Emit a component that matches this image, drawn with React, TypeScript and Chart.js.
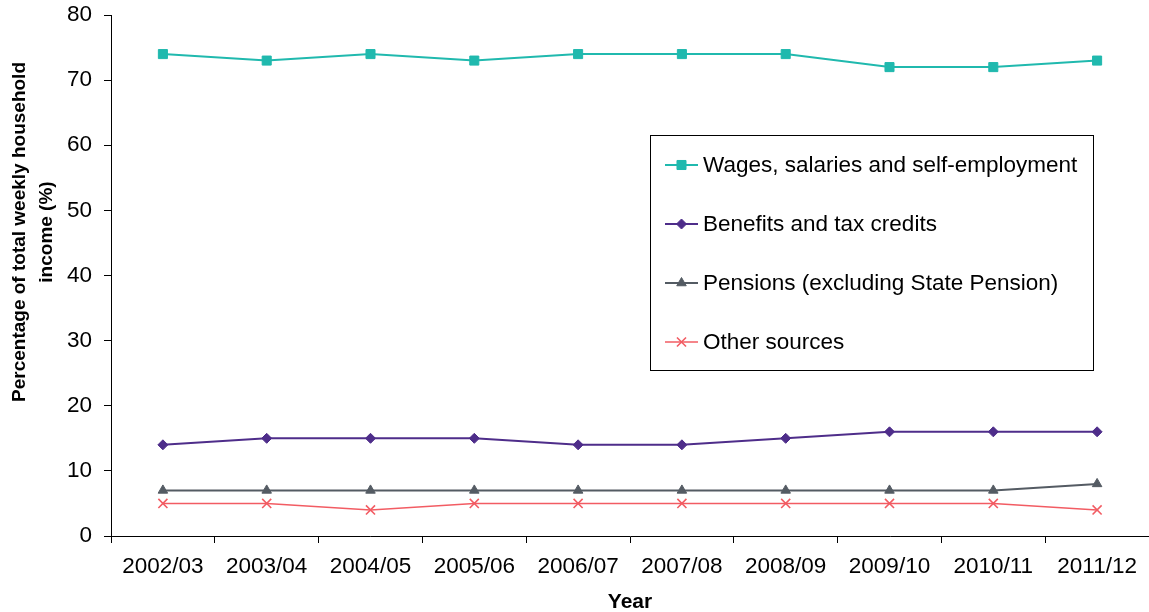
import React, { useEffect, useRef } from "react";
import { Chart, registerables } from "chart.js";
import { drawPoint } from "chart.js/helpers";

Chart.register(...registerables);

const years = ["2002/03", "2003/04", "2004/05", "2005/06", "2006/07", "2007/08", "2008/09", "2009/10", "2010/11", "2011/12"];
const wages = [74, 73, 74, 73, 74, 74, 74, 72, 72, 73];
const benefits = [14, 15, 15, 15, 14, 14, 15, 16, 16, 16];
const pensions = [7, 7, 7, 7, 7, 7, 7, 7, 7, 8];
const other = [5, 5, 4, 5, 5, 5, 5, 5, 5, 4];

const seriesNames = [
  "Wages, salaries and self-employment",
  "Benefits and tax credits",
  "Pensions (excluding State Pension)",
  "Other sources",
];
const yTitleLines = ["Percentage of total weekly household", "income (%)"];
const xTitle = "Year";

const FONT = "'Liberation Sans', Arial, sans-serif";

export default function App() {
  const ref = useRef<HTMLCanvasElement | null>(null);
  useEffect(() => {
    if (!ref.current) return;
    const styles = [
      { color: "#20B9AE", style: "rect", radius: 6.4, width: 2, data: wages },
      { color: "#4E2D8A", style: "rectRot", radius: 5, width: 2, data: benefits },
      { color: "#545B63", style: "triangle", radius: 5.5, width: 2, data: pensions },
      { color: "#F25C63", style: "crossRot", radius: 6.4, width: 1.6, data: other },
    ];
    const customPlugin = {
      id: "custom",
      afterDraw(chart: any) {
        const ctx = chart.ctx;
        ctx.save();
        // y title
        ctx.fillStyle = "#000";
        ctx.font = `bold 19px ${FONT}`;
        ctx.textAlign = "center";
        ctx.textBaseline = "middle";
        yTitleLines.forEach((line, i) => {
          ctx.save();
          ctx.translate(20 + i * 27, 232);
          ctx.rotate(-Math.PI / 2);
          ctx.fillText(line, 0, 0);
          ctx.restore();
        });
        // legend
        ctx.strokeStyle = "#000";
        ctx.lineWidth = 1;
        ctx.strokeRect(650.5, 135.5, 443, 235);
        styles.forEach((s, i) => {
          const y = 165 + i * 59;
          ctx.strokeStyle = s.color;
          ctx.lineWidth = s.width;
          ctx.beginPath();
          ctx.moveTo(665, y);
          ctx.lineTo(698, y);
          ctx.stroke();
          ctx.fillStyle = s.color;
          ctx.strokeStyle = s.color;
          ctx.lineWidth = s.style === "crossRot" ? 1.6 : 1;
          drawPoint(ctx, { pointStyle: s.style, radius: s.radius, rotation: 0, borderWidth: ctx.lineWidth }, 681.5, y);
          ctx.fillStyle = "#000";
          ctx.font = `22.5px ${FONT}`;
          ctx.textAlign = "left";
          ctx.textBaseline = "middle";
          ctx.fillText(seriesNames[i], 703, y + 1);
        });
        ctx.restore();
      },
    };
    const chart = new Chart(ref.current, {
      type: "line",
      data: {
        labels: years,
        datasets: styles.map((s, i) => ({
          label: seriesNames[i],
          data: s.data,
          borderColor: s.color,
          backgroundColor: s.color,
          borderWidth: s.width,
          pointStyle: s.style as any,
          pointRadius: s.radius,
          pointBorderWidth: s.style === "crossRot" ? 1.6 : 1,
          pointBackgroundColor: s.color,
          pointBorderColor: s.color,
          tension: 0,
        })),
      },
      options: {
        animation: false,
        responsive: false,
        maintainAspectRatio: false,
        devicePixelRatio: 1,
        layout: { autoPadding: false, padding: { top: 15, right: 0, left: 0, bottom: 0 } },
        plugins: { legend: { display: false }, tooltip: { enabled: false } },
        scales: {
          x: {
            type: "category",
            offset: true,
            grid: { offset: true, drawOnChartArea: false, drawTicks: true, tickLength: 7, color: "#000", lineWidth: 1 },
            border: { display: true, color: "#000", width: 1 },
            ticks: { color: "#000", font: { family: FONT, size: 22.5 }, padding: 10, maxRotation: 0, autoSkip: false },
            title: { display: true, text: xTitle, color: "#000", font: { family: FONT, size: 21, weight: "bold" }, padding: { top: 0, bottom: -3 } },
            afterFit: (s: any) => { s.height = 76; s.paddingLeft = 0; s.paddingRight = 0; },
          },
          y: {
            min: 0,
            max: 80,
            grid: { drawOnChartArea: false, drawTicks: true, tickLength: 7, color: "#000", lineWidth: 1 },
            border: { display: true, color: "#000", width: 1 },
            ticks: { stepSize: 10, color: "#000", font: { family: FONT, size: 22.5 }, padding: 12 },
            afterFit: (s: any) => { s.width = 111; s.paddingTop = 0; s.paddingBottom = 0; },
          },
        },
      },
      plugins: [customPlugin],
    });
    return () => chart.destroy();
  }, []);
  return (
    <div style={{ position: "fixed", left: 0, top: 0, width: 1149, height: 612, background: "#fff" }}>
      <canvas ref={ref} width={1149} height={612} style={{ display: "block", width: 1149, height: 612 }} />
    </div>
  );
}
